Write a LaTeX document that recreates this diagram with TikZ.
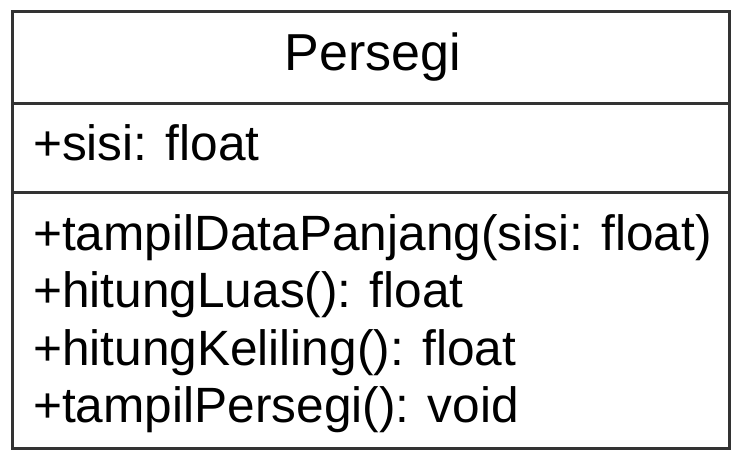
\documentclass[tikz,border=0pt]{standalone}
\usepackage{fontspec}
\setmainfont{Liberation Sans}
\begin{document}
\begin{tikzpicture}[x=1pt,y=-1pt,
  boxline/.style={draw=black!80,line width=3pt},
  member/.style={anchor=base west,inner sep=0pt,font=\fontsize{49.6}{57}\selectfont},
  titletext/.style={anchor=base,inner sep=0pt,font=\fontsize{52}{60}\selectfont}]
\useasboundingbox (0,0) rectangle (740,453);
\coordinate (tl) at (12.5,11);
\coordinate (br) at (729,448);
\coordinate (d1l) at (12.5,103);
\coordinate (d1r) at (729,103);
\coordinate (d2l) at (12.5,192);
\coordinate (d2r) at (729,192);
\draw[boxline] (tl) rectangle (br);
\draw[boxline] (d1l) -- (d1r);
\draw[boxline] (d2l) -- (d2r);
\node[titletext] (title) at (373,70) {Persegi};
\node[member] (attr) at (33,160) {+sisi: float};
\node[member] (m1) at (33,250) {+tampilDataPanjang(sisi: float)};
\node[member] (m2) at (33,307) {+hitungLuas(): float};
\node[member] (m3) at (33,365) {+hitungKeliling(): float};
\node[member] (m4) at (33,422) {+tampilPersegi(): void};
\end{tikzpicture}
\end{document}
